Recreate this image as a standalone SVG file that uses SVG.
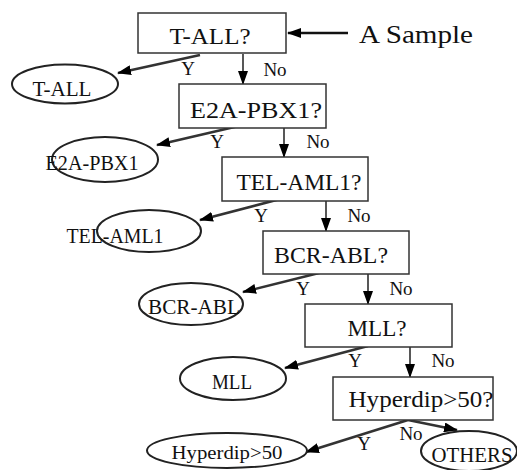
<svg xmlns="http://www.w3.org/2000/svg" width="517" height="470" viewBox="0 0 517 470">
<style>
.box{fill:#fff;stroke:#333;stroke-width:1.5}
.ell{fill:#fff;stroke:#222;stroke-width:2}
.t{font-family:"Liberation Serif","Times New Roman",serif;fill:#111;text-anchor:middle}
.bl{font-size:23px}
.el{font-size:21px}
.lb{font-size:19px}
.yes{stroke:#333;stroke-width:2.6;fill:none}
.no{stroke:#111;stroke-width:1.4;fill:none}
</style>
<defs>
<marker id="ah" markerUnits="userSpaceOnUse" markerWidth="14" markerHeight="10" refX="13" refY="5" orient="auto">
<path d="M0,0 L14,5 L0,10 Z" fill="#000"/>
</marker>
</defs>
<g id="connectors">
<line class="no" x1="348" y1="33" x2="288" y2="33" marker-end="url(#ah)" style="stroke-width:2.4"/>
<line class="yes" x1="200" y1="55" x2="118" y2="73" marker-end="url(#ah)"/>
<line class="no" x1="243" y1="54" x2="243" y2="84" marker-end="url(#ah)"/>
<line class="yes" x1="243" y1="125" x2="157" y2="145" marker-end="url(#ah)"/>
<line class="no" x1="284" y1="128" x2="284" y2="157" marker-end="url(#ah)"/>
<line class="yes" x1="284" y1="198" x2="200" y2="220" marker-end="url(#ah)"/>
<line class="no" x1="326" y1="201" x2="326" y2="231" marker-end="url(#ah)"/>
<line class="yes" x1="323" y1="272" x2="243" y2="292" marker-end="url(#ah)"/>
<line class="no" x1="368" y1="274" x2="368" y2="304" marker-end="url(#ah)"/>
<line class="yes" x1="368" y1="346" x2="285" y2="368" marker-end="url(#ah)"/>
<line class="no" x1="410" y1="347" x2="410" y2="377" marker-end="url(#ah)"/>
<line class="yes" x1="408" y1="420" x2="306" y2="452" marker-end="url(#ah)"/>
<line class="yes" x1="408" y1="420" x2="457" y2="430" marker-end="url(#ah)"/>
<text class="t lb" x="188" y="75">Y</text>
<text class="t lb" x="275" y="76">No</text>
<text class="t lb" x="217" y="148">Y</text>
<text class="t lb" x="318" y="148">No</text>
<text class="t lb" x="261" y="222">Y</text>
<text class="t lb" x="359" y="222">No</text>
<text class="t lb" x="303" y="295">Y</text>
<text class="t lb" x="401" y="295">No</text>
<text class="t lb" x="355" y="367">Y</text>
<text class="t lb" x="443" y="367">No</text>
<text class="t lb" x="364" y="450">Y</text>
<text class="t lb" x="411" y="440">No</text>
</g>
<g id="sample">
<text class="t" x="416" y="43" style="font-size:25px" textLength="114" lengthAdjust="spacingAndGlyphs">A Sample</text>
</g>
<g id="q-tall">
<rect class="box" x="138" y="13" width="148" height="40"/>
<text class="t bl" x="210" y="44" textLength="81" lengthAdjust="spacingAndGlyphs">T-ALL?</text>
</g>
<g id="r-tall">
<ellipse class="ell" cx="65" cy="84" rx="53" ry="19.5"/>
<text class="t el" x="62" y="96" textLength="59" lengthAdjust="spacingAndGlyphs">T-ALL</text>
</g>
<g id="q-e2a">
<rect class="box" x="179" y="84" width="147" height="44"/>
<text class="t bl" x="256" y="118" textLength="132" lengthAdjust="spacingAndGlyphs">E2A-PBX1?</text>
</g>
<g id="r-e2a">
<ellipse class="ell" cx="105" cy="159.5" rx="53" ry="22.5"/>
<text class="t el" x="92" y="170" textLength="93" lengthAdjust="spacingAndGlyphs">E2A-PBX1</text>
</g>
<g id="q-tel">
<rect class="box" x="222" y="157" width="146" height="44"/>
<text class="t bl" x="299" y="190" textLength="125" lengthAdjust="spacingAndGlyphs">TEL-AML1?</text>
</g>
<g id="r-tel">
<ellipse class="ell" cx="149" cy="231" rx="52" ry="21"/>
<text class="t el" x="115" y="243" textLength="97" lengthAdjust="spacingAndGlyphs">TEL-AML1</text>
</g>
<g id="q-bcr">
<rect class="box" x="263" y="231" width="146" height="43"/>
<text class="t bl" x="331" y="263" textLength="114" lengthAdjust="spacingAndGlyphs">BCR-ABL?</text>
</g>
<g id="r-bcr">
<ellipse class="ell" cx="191" cy="304" rx="52" ry="21"/>
<text class="t el" x="194" y="314" textLength="92" lengthAdjust="spacingAndGlyphs">BCR-ABL</text>
</g>
<g id="q-mll">
<rect class="box" x="305" y="304" width="147" height="43"/>
<text class="t bl" x="377" y="336" textLength="59" lengthAdjust="spacingAndGlyphs">MLL?</text>
</g>
<g id="r-mll">
<ellipse class="ell" cx="233" cy="378.5" rx="53" ry="21.5"/>
<text class="t el" x="232" y="389" textLength="40" lengthAdjust="spacingAndGlyphs">MLL</text>
</g>
<g id="q-hyp">
<rect class="box" x="333" y="377" width="160" height="43"/>
<text class="t bl" x="421" y="407" textLength="145" lengthAdjust="spacingAndGlyphs">Hyperdip&gt;50?</text>
</g>
<g id="r-hyp">
<ellipse class="ell" cx="227" cy="450.5" rx="80" ry="17.5"/>
<text class="t" x="227" y="459" style="font-size:19px" textLength="111" lengthAdjust="spacingAndGlyphs">Hyperdip&gt;50</text>
</g>
<g id="r-others">
<ellipse class="ell" cx="469" cy="451" rx="48" ry="20"/>
<text class="t el" x="472" y="462" textLength="81" lengthAdjust="spacingAndGlyphs">OTHERS</text>
</g>
</svg>
